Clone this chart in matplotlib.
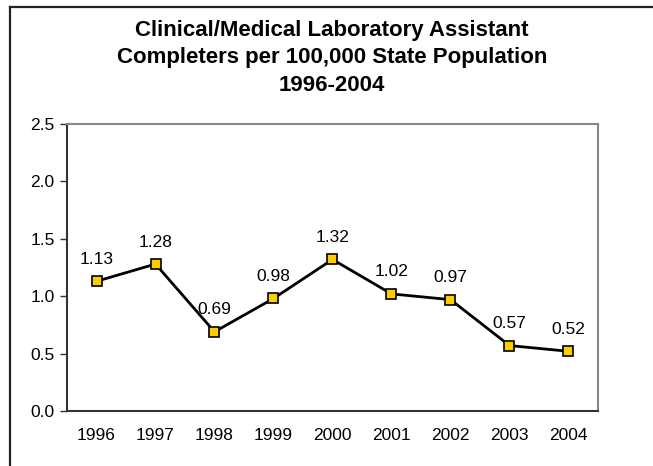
import matplotlib.pyplot as plt
from matplotlib.lines import Line2D

years = ["1996", "1997", "1998", "1999", "2000", "2001", "2002", "2003", "2004"]
rates = [1.13, 1.28, 0.69, 0.98, 1.32, 1.02, 0.97, 0.57, 0.52]
labels = ["1.13", "1.28", "0.69", "0.98", "1.32", "1.02", "0.97", "0.57", "0.52"]
yticks = [0.0, 0.5, 1.0, 1.5, 2.0, 2.5]

title = ("Clinical/Medical Laboratory Assistant\n"
         "Completers per 100,000 State Population\n"
         "1996-2004")

plt.rcParams['font.family'] = ['Liberation Sans', 'DejaVu Sans']
plt.rcParams['font.size'] = 12.5

W, H = 653, 466
fig = plt.figure(figsize=(W / 100, H / 100), dpi=100)
ax = fig.add_axes([67 / W, 1 - 411 / H, 531 / W, 287 / H])

x = list(range(len(years)))
ax.plot(x, rates, color="black", lw=2, marker="s", markersize=7,
        markerfacecolor="#FFCC00", markeredgecolor="black", markeredgewidth=1.2,
        zorder=3)

for xi, yi, lab in zip(x, rates, labels):
    ax.annotate(lab, (xi, yi), xytext=(0, 22), textcoords="offset pixels",
                ha="center", va="center", fontsize=12.5)

ax.set_xlim(-0.5, len(years) - 0.5)
ax.set_ylim(0, 2.5)
ax.set_xticks(x)
ax.set_xticklabels(years)
ax.set_yticks(yticks)
ax.set_yticklabels(["%.1f" % v for v in yticks])

ax.tick_params(axis="x", length=0, pad=12)
ax.tick_params(axis="y", length=5, width=1, direction="out", pad=4, color="#333333")

ax.spines["left"].set_color("#333333")
ax.spines["bottom"].set_color("#333333")
ax.spines["left"].set_linewidth(1.5)
ax.spines["bottom"].set_linewidth(1.5)
ax.spines["top"].set_color("#888888")
ax.spines["right"].set_color("#888888")
ax.spines["top"].set_linewidth(1.5)
ax.spines["right"].set_linewidth(1.5)

fig.text(332 / W, 1 - 58 / H, title, ha="center", va="center",
         fontsize=16, fontweight="bold", linespacing=1.38)

# outer chart frame (only top and left fall inside the picture)
fig.add_artist(Line2D([10 / W, 1.0], [1 - 6.5 / H, 1 - 6.5 / H],
                      transform=fig.transFigure, color="#222222", lw=1.6))
fig.add_artist(Line2D([10 / W, 10 / W], [1 - 6.5 / H, 0.0],
                      transform=fig.transFigure, color="#222222", lw=1.6))

fig.savefig("out.png", dpi=100)
